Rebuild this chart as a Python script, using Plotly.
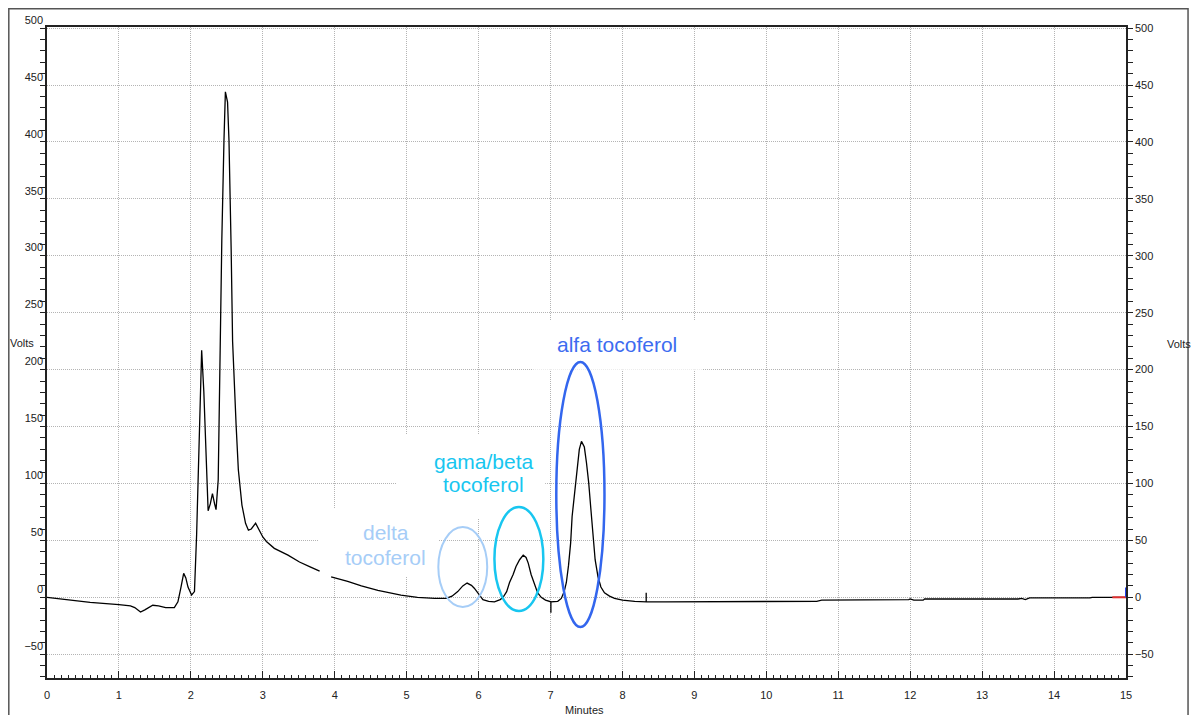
import plotly.graph_objects as go

# ---- chromatogram data (minutes, volts) ----
minutes = [0.00, 0.30, 0.60, 1.00, 1.16, 1.22, 1.30, 1.36, 1.47, 1.55, 1.65, 1.77, 1.82, 1.86, 1.90, 1.93,
           1.96, 2.01, 2.05, 2.08, 2.11, 2.13, 2.15, 2.18, 2.21, 2.24, 2.27, 2.30, 2.33, 2.35, 2.38, 2.40,
           2.43, 2.46, 2.48, 2.51, 2.53, 2.56, 2.58, 2.63, 2.66, 2.71, 2.76, 2.80, 2.84, 2.90, 2.95, 3.00,
           3.05, 3.16, 3.35, 3.51, 3.65, 3.79, None, 3.95, 4.18, 4.37, 4.60, 4.92, 5.15, 5.39, 5.55, 5.63,
           5.71, 5.78, 5.84, 5.90, 5.94, 6.00, 6.06, 6.14, 6.22, 6.30, 6.34, 6.39, 6.43, 6.48, 6.52, 6.57,
           6.62, 6.66, 6.69, 6.73, 6.78, 6.82, 6.87, 6.93, 7.005, 7.005, 7.005, 7.10, 7.15, 7.19, 7.22, 7.25,
           7.28, 7.30, 7.33, 7.37, 7.40, 7.43, 7.47, 7.50, 7.53, 7.56, 7.59, 7.62, 7.66, 7.70, 7.75, 7.82,
           7.89, 8.00, 8.17, 8.33, 8.33, 8.33, 8.60, 9.10, 9.15, 9.60, 10.20, 10.70, 10.77, 11.50, 11.98, 12.00,
           12.05, 12.18, 12.20, 13.50, 13.55, 13.60, 13.66, 14.50, 14.53, 15.00]
volts = [0, -2.5, -4.5, -6.5, -7.5, -9, -13, -11, -7, -7.5, -9, -9, -4, 8, 21, 17,
         9, 2, 5, 55, 134, 181, 217, 181, 118, 76, 82, 91, 82, 77, 103, 197,
         313, 401, 444, 435, 401, 306, 225, 150, 112, 81, 65, 59, 60, 65, 59, 53,
         49, 43, 37, 31, 27, 23, None, 18, 14, 10, 6, 2, 0, -1, -1, 1,
         5, 10, 12.5, 10.5, 8, 3, -2, -3.5, -4, -2, 0, 5, 13, 20, 27, 33,
         37, 35, 30, 20, 10, 4, 0, -2.5, -4, -13.5, -4, -3.5, -1, 5, 13, 28,
         48, 71, 89, 118, 130, 137, 132, 118, 101, 78, 54, 33, 18, 9, 4, 1,
         -1, -2.5, -3.5, -4, 4, -4, -4, -4, -3.5, -3.5, -3.5, -3.5, -2.5, -2.5, -2, -1.5,
         -2.5, -2.5, -1.5, -1.5, -1, -2, -0.5, -0.5, 0, 0]

# end-of-run markers
end_red_t = [14.81, 15.0]
end_red_v = [0, 0]
end_blue_t = [15.0, 15.0]
end_blue_v = [0, 8.7]

# ---- peak labels ----
label_lines = ["alfa tocoferol", "gama/beta", "tocoferol", "delta", "tocoferol"]
label_t = [7.93, 6.08, 6.07, 4.71, 4.71]
label_v = [221.7, 118.9, 98.7, 56.5, 35.4]
label_colors = ["#3d6cf0", "#18c6f0", "#18c6f0", "#a6cdf7", "#a6cdf7"]

# label background boxes (t0, t1, v0, v1)
label_boxes = [(6.76, 9.11, 199.8, 242.9), (4.855, 6.925, 69.7, 142.7), (3.77, 5.44, 18.7, 78.5)]
# peak ellipses (t0, t1, v0, v1, color, width)
peak_ellipses = [(5.44, 6.12, -8.5, 61.8, "#a6cdf7", 2),
                 (6.22, 6.90, -12.0, 79.3, "#18c6f0", 2.5),
                 (7.08, 7.75, -26.1, 206.8, "#3366ee", 2.5)]

YMIN, YMAX = -70.9, 501
AXC = "#222222"
GRID = "#b4b4b4"
FONT = "Liberation Sans, Arial, sans-serif"

fig = go.Figure()
fig.add_trace(go.Scatter(x=minutes, y=volts, mode="lines", line=dict(color="black", width=1.3),
                         connectgaps=False, hoverinfo="skip"))
fig.add_trace(go.Scatter(x=end_red_t, y=end_red_v, mode="lines", line=dict(color="#e03030", width=2),
                         hoverinfo="skip"))
fig.add_trace(go.Scatter(x=end_blue_t, y=end_blue_v, mode="lines", line=dict(color="#2040f0", width=2),
                         hoverinfo="skip", cliponaxis=False))
# invisible trace to activate the right axis
fig.add_trace(go.Scatter(x=[0], y=[0], yaxis="y2", mode="lines", line=dict(width=0),
                         hoverinfo="skip", showlegend=False))

shapes = []
for t0, t1, v0, v1 in label_boxes:
    shapes.append(dict(type="rect", xref="x", yref="y", x0=t0, x1=t1, y0=v0, y1=v1,
                       fillcolor="white", line=dict(width=0), layer="between"))
for t0, t1, v0, v1, c, w in peak_ellipses:
    shapes.append(dict(type="circle", xref="x", yref="y", x0=t0, x1=t1, y0=v0, y1=v1,
                       line=dict(color=c, width=w), layer="above"))
# outer frame
shapes.append(dict(type="rect", xref="paper", yref="paper", x0=-0.0354, x1=1.0575, y0=-0.08, y1=1.0280,
                   line=dict(color="#555", width=1.5), layer="above"))

annotations = []
for txt, t, v, c in zip(label_lines, label_t, label_v, label_colors):
    annotations.append(dict(x=t, y=v, xref="x", yref="y", text=txt, showarrow=False,
                            xanchor="center", yanchor="middle", font=dict(size=21, color=c, family=FONT)))
annotations.append(dict(x=-0.0236, y=0.5146, xref="paper", yref="paper", text="Volts", showarrow=False,
                        xanchor="center", yanchor="middle", font=dict(size=11, color="#222", family=FONT)))
annotations.append(dict(x=1.0495, y=0.5130, xref="paper", yref="paper", text="Volts", showarrow=False,
                        xanchor="center", yanchor="middle", font=dict(size=11, color="#222", family=FONT)))
annotations.append(dict(x=0.4986, y=-0.0490, xref="paper", yref="paper", text="Minutes", showarrow=False,
                        xanchor="center", yanchor="middle", font=dict(size=11, color="#222", family=FONT)))

fig.update_layout(
    width=1193, height=707,
    margin=dict(l=39, r=75, t=19, b=37, autoexpand=False),
    paper_bgcolor="white", plot_bgcolor="white",
    showlegend=False,
    font=dict(family=FONT, size=11, color="#333"),
    xaxis=dict(range=[0, 15], tick0=0, dtick=1, ticks="inside", ticklen=7, tickcolor=AXC, tickwidth=1,
               showline=True, linecolor=AXC, linewidth=1.5, mirror=True, automargin=False,
               showgrid=True, gridcolor=GRID, gridwidth=1, griddash="1px,1px", zeroline=False,
               minor=dict(dtick=0.1, ticks="inside", ticklen=3, tickcolor=AXC, showgrid=False),
               tickfont=dict(size=11, color="#222"), ticklabelstandoff=6),
    yaxis=dict(range=[YMIN, YMAX], tick0=0, dtick=50, ticks="outside", ticklen=5, tickcolor=AXC,
               showline=True, linecolor=AXC, linewidth=1.5, automargin=False,
               showgrid=True, gridcolor=GRID, gridwidth=1, griddash="1px,1px", zeroline=False,
               minor=dict(dtick=10, ticks="outside", ticklen=5, tickcolor=AXC, showgrid=False),
               ticklabelposition="outside top", tickfont=dict(size=11, color="#222")),
    yaxis2=dict(range=[YMIN, YMAX], overlaying="y", side="right", tick0=0, dtick=50, ticks="outside",
                ticklen=5, tickcolor=AXC, showline=True, linecolor=AXC, linewidth=1.5, automargin=False,
                showgrid=False, zeroline=False,
                minor=dict(dtick=10, ticks="outside", ticklen=5, tickcolor=AXC, showgrid=False),
                tickfont=dict(size=11, color="#222")),
    shapes=shapes,
    annotations=annotations,
)

fig.write_html("out.html")
